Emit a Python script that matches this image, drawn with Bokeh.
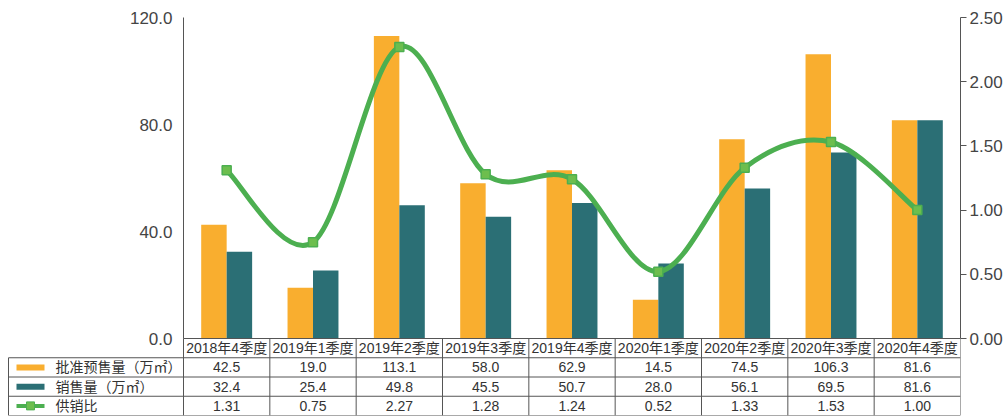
import numpy as np
from bokeh.plotting import figure
from bokeh.models import Range1d, LinearAxis, FixedTicker, NumeralTickFormatter, ColumnDataSource
from bokeh.core.properties import value
from bokeh.embed import file_html
from bokeh.resources import INLINE

# ---------------- data ----------------
categories = ["2018年4季度", "2019年1季度", "2019年2季度", "2019年3季度", "2019年4季度",
              "2020年1季度", "2020年2季度", "2020年3季度", "2020年4季度"]
approved = [42.5, 19.0, 113.1, 58.0, 62.9, 14.5, 74.5, 106.3, 81.6]
sales = [32.4, 25.4, 49.8, 45.5, 50.7, 28.0, 56.1, 69.5, 81.6]
ratio = [1.31, 0.75, 2.27, 1.28, 1.24, 0.52, 1.33, 1.53, 1.00]
series_names = ["批准预售量（万㎡）", "销售量（万㎡）", "供销比"]
left_ticks = [0, 40, 80, 120]
left_tick_labels = ["0.0", "40.0", "80.0", "120.0"]
right_ticks = [0, 0.5, 1.0, 1.5, 2.0, 2.5]

# ---------------- layout constants ----------------
W, H = 1007, 416
CAT_LEFT_PX = 183      # pixel where first category starts (left axis)
FRAME_RIGHT_PX = 960
FRAME_TOP_PX = 2
AXIS_TOP_PX = 17       # pixel where the axes' maximum sits
ZERO_PX = 338
BOTTOM_PX = 415
TABLE_LEFT_PX = 8
LEFT_MAX = 120.0
RIGHT_MAX = 2.5

n = len(categories)
cat_px = (FRAME_RIGHT_PX - CAT_LEFT_PX) / n
x_start = -CAT_LEFT_PX / cat_px
ppu = (ZERO_PX - AXIS_TOP_PX) / LEFT_MAX
row_h = (BOTTOM_PX - ZERO_PX) / 4 / ppu
y_start = -4 * row_h
y_end = LEFT_MAX + (AXIS_TOP_PX - FRAME_TOP_PX) / ppu
rscale = RIGHT_MAX / LEFT_MAX


def ux(px):
    return (px - CAT_LEFT_PX) / cat_px


FONT = value("Liberation Sans, Noto Sans CJK SC")
ORANGE = "#F9AE2F"
TEAL = "#2B6F75"
GREEN = "#4CAF50"
GRID = "#555555"
TXT = "#333333"

p = figure(width=W, height=H,
           x_range=Range1d(x_start, n), y_range=Range1d(y_start, y_end),
           min_border_left=0, min_border_right=W - FRAME_RIGHT_PX,
           min_border_top=FRAME_TOP_PX, min_border_bottom=H - BOTTOM_PX,
           x_axis_location=None, y_axis_location=None,
           output_backend="svg", toolbar_location=None)
p.outline_line_color = None
p.grid.visible = False
p.background_fill_color = "white"
p.border_fill_color = "white"
p.extra_y_ranges = {"ratio": Range1d(y_start * rscale, y_end * rscale)}

# right axis
ax = LinearAxis(y_range_name="ratio", bounds=(0, RIGHT_MAX),
                ticker=FixedTicker(ticks=right_ticks),
                formatter=NumeralTickFormatter(format="0.00"))
ax.major_tick_out = 6
ax.major_tick_in = 0
ax.minor_tick_out = 0
ax.minor_tick_in = 0
ax.axis_line_color = "#555555"
ax.major_tick_line_color = "#555555"
ax.major_label_text_font = "Liberation Sans"
ax.major_label_text_font_size = "17px"
ax.major_label_text_color = "#444444"
ax.major_label_standoff = 3
p.add_layout(ax, "right")

centers = np.arange(n) + 0.5
bw = 0.295
src = ColumnDataSource(dict(xa=centers - bw / 2, xs=centers + bw / 2, approved=approved, sales=sales,
                            xc=centers, ratio=ratio))

# bars
p.vbar(x="xa", top="approved", width=bw, bottom=0, source=src, fill_color=ORANGE, line_color=None)
p.vbar(x="xs", top="sales", width=bw, bottom=0, source=src, fill_color=TEAL, line_color=None)

# smoothed ratio line (Catmull-Rom -> cubic bezier through the data points)
px_ = list(centers)
py_ = list(ratio)
b = dict(x0=[], y0=[], x1=[], y1=[], cx0=[], cy0=[], cx1=[], cy1=[])
for i in range(n - 1):
    i0 = max(i - 1, 0)
    i3 = min(i + 2, n - 1)
    b["x0"].append(px_[i]); b["y0"].append(py_[i])
    b["x1"].append(px_[i + 1]); b["y1"].append(py_[i + 1])
    b["cx0"].append(px_[i] + (px_[i + 1] - px_[i0]) / 6)
    b["cy0"].append(py_[i] + (py_[i + 1] - py_[i0]) / 6)
    b["cx1"].append(px_[i + 1] - (px_[i3] - px_[i]) / 6)
    b["cy1"].append(py_[i + 1] - (py_[i3] - py_[i]) / 6)
p.bezier(source=ColumnDataSource(b), x0="x0", y0="y0", x1="x1", y1="y1",
         cx0="cx0", cy0="cy0", cx1="cx1", cy1="cy1",
         line_color=GREEN, line_width=5, line_cap="round", y_range_name="ratio")
p.scatter(x="xc", y="ratio", source=src, marker="square", size=9,
          fill_color="#6DBE4E", line_color=GREEN, line_width=1.5, y_range_name="ratio")

# left axis (drawn on the data scale)
p.segment(x0=[0], y0=[0], x1=[0], y1=[LEFT_MAX], line_color="#555555", line_width=1)
p.text(x=[0] * len(left_ticks), y=left_ticks, text=left_tick_labels, x_offset=-11,
       text_align="right", text_baseline="middle", text_font=value("Liberation Sans"),
       text_font_size="17px", text_color="#444444")

# ---------------- data table ----------------
xl = ux(TABLE_LEFT_PX)
# horizontal lines
hy = [0] + [-row_h * k for k in range(1, 5)]
hx0 = [0] + [xl] * 4
p.segment(x0=hx0, y0=hy, x1=[n] * 5, y1=hy, line_color=GRID, line_width=1)
# vertical lines
vx = list(range(n + 1))
p.segment(x0=vx, y0=[0] * (n + 1), x1=vx, y1=[y_start] * (n + 1), line_color=GRID, line_width=1)
p.segment(x0=[xl], y0=[-row_h], x1=[xl], y1=[y_start], line_color=GRID, line_width=1)

# header
p.text(x=centers, y=[-row_h / 2] * n, text=categories, text_align="center", text_baseline="middle",
       text_font=FONT, text_font_size="14px", text_color=TXT)
rows = [[f"{v:.1f}" for v in approved], [f"{v:.1f}" for v in sales], [f"{v:.2f}" for v in ratio]]
for k, r in enumerate(rows):
    yy = -row_h * (k + 1.5)
    p.text(x=centers, y=[yy] * n, text=r, text_align="center", text_baseline="middle",
           text_font=FONT, text_font_size="14px", text_color=TXT)

# legend cells in the table
ys = [-row_h * (k + 1.5) for k in range(3)]
p.segment(x0=[ux(16)], y0=[ys[0]], x1=[ux(44)], y1=[ys[0]], line_color=ORANGE, line_width=6)
p.segment(x0=[ux(16)], y0=[ys[1]], x1=[ux(44)], y1=[ys[1]], line_color=TEAL, line_width=6)
p.segment(x0=[ux(16)], y0=[ys[2]], x1=[ux(44)], y1=[ys[2]], line_color=GREEN, line_width=4)
p.scatter(x=[ux(30)], y=[ys[2]], marker="square", size=8, fill_color="#6DBE4E", line_color=GREEN)
p.text(x=[ux(55)] * 3, y=ys, text=series_names, text_align="left", text_baseline="middle",
       text_font=FONT, text_font_size="14px", text_color=TXT)

open("out.html", "w").write(file_html(p, INLINE))
